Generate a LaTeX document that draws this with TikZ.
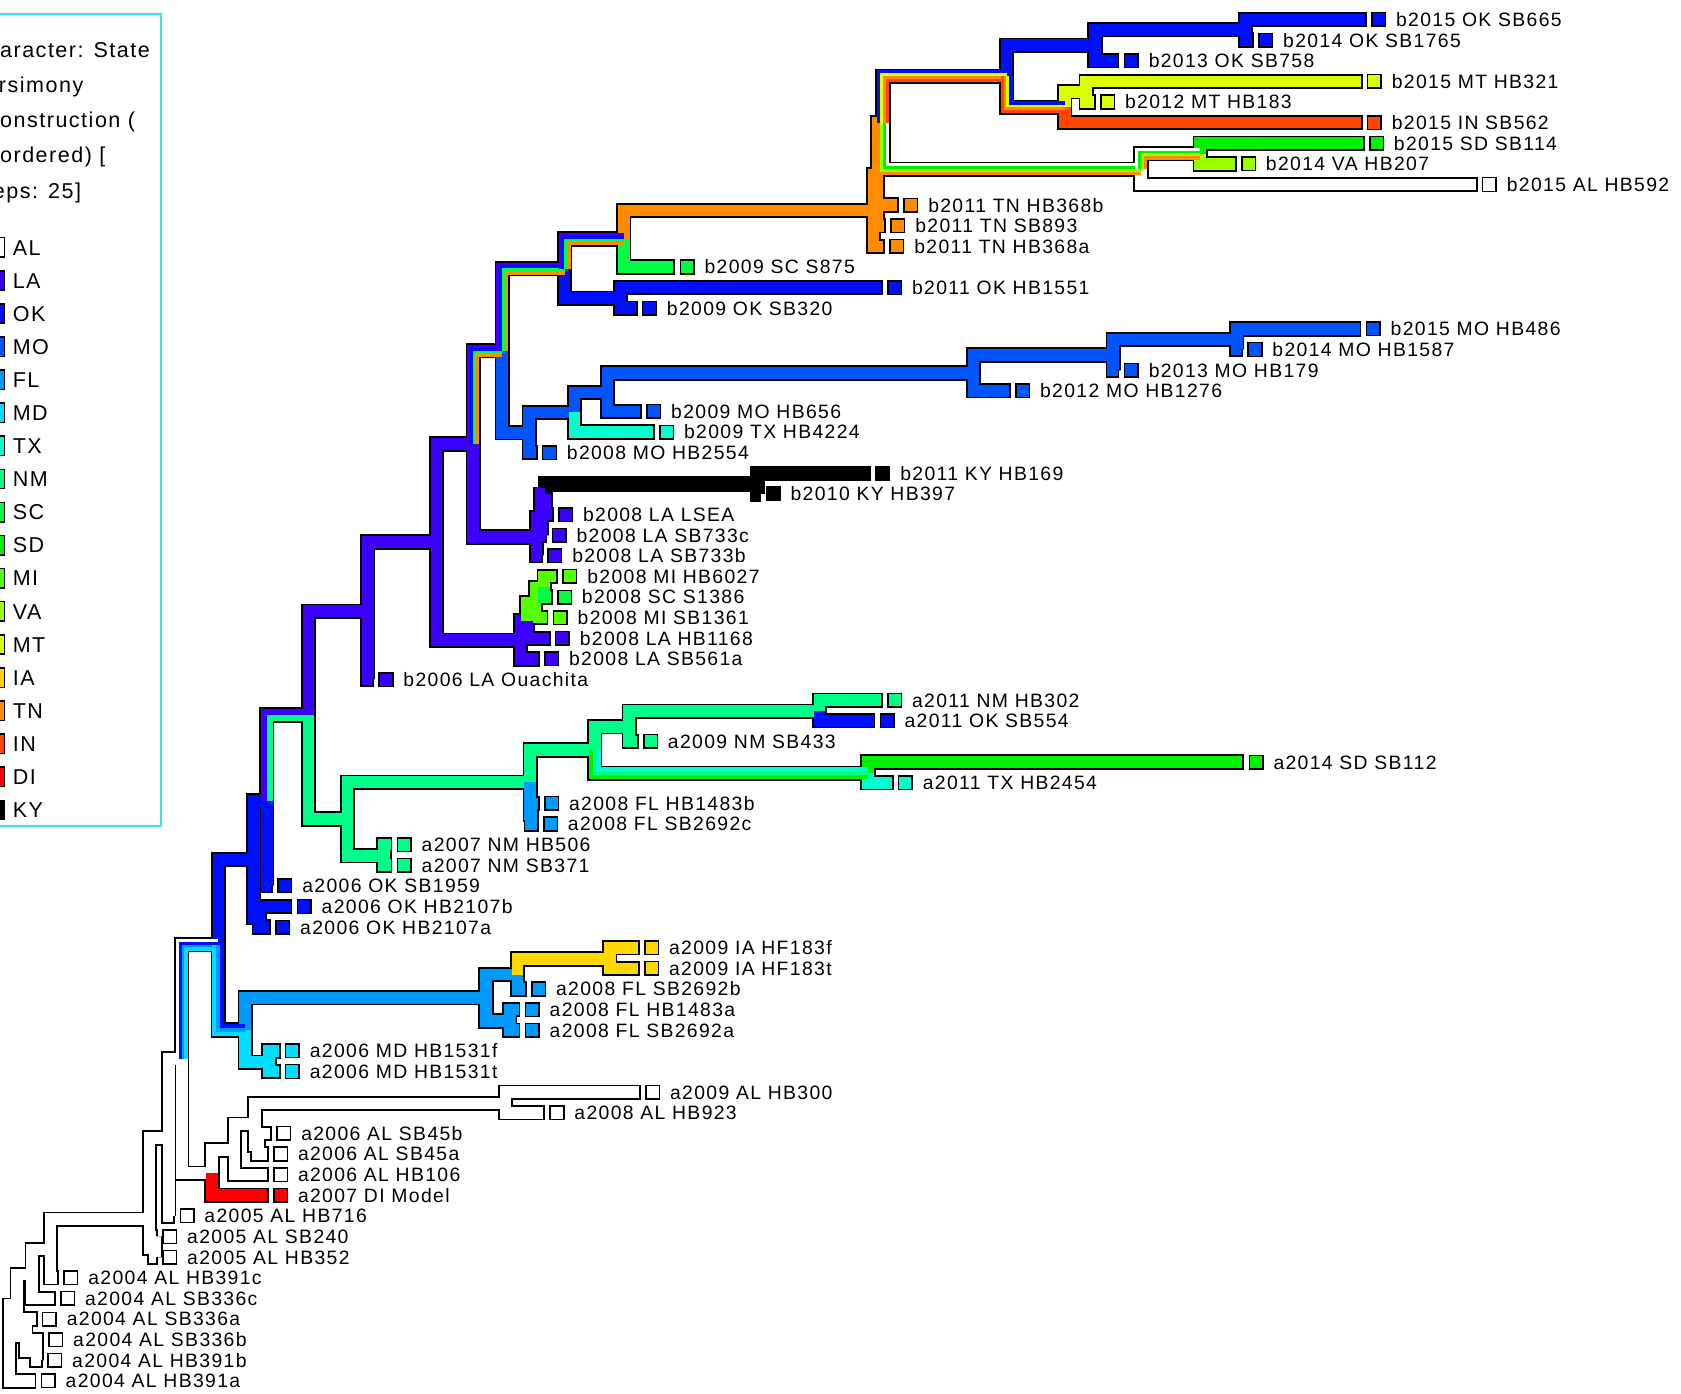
\documentclass[tikz,border=0pt]{standalone}
\usepackage{fontspec}
\setmainfont{Liberation Sans}[LetterSpace=7]
\usetikzlibrary{positioning}
\definecolor{cAL}{RGB}{255,255,255}
\definecolor{cLA}{RGB}{60,0,255}
\definecolor{cOK}{RGB}{0,16,255}
\definecolor{cMO}{RGB}{0,85,255}
\definecolor{cFL}{RGB}{0,153,255}
\definecolor{cMD}{RGB}{0,221,255}
\definecolor{cTX}{RGB}{0,255,204}
\definecolor{cNM}{RGB}{0,255,136}
\definecolor{cSC}{RGB}{0,255,68}
\definecolor{cSD}{RGB}{0,240,0}
\definecolor{cMI}{RGB}{85,255,0}
\definecolor{cVA}{RGB}{153,255,0}
\definecolor{cMT}{RGB}{221,255,0}
\definecolor{cIA}{RGB}{255,215,0}
\definecolor{cTN}{RGB}{255,140,0}
\definecolor{cIN}{RGB}{255,69,0}
\definecolor{cDI}{RGB}{255,0,0}
\definecolor{cKY}{RGB}{0,0,0}
\definecolor{frame}{RGB}{64,224,240}
\tikzset{
  brout/.style={draw=black, line width=14.2pt, line join=miter, line cap=butt},
  brfill/.style={draw=c#1, line width=10.8pt, line join=miter, line cap=butt},
  leaf/.style={draw=black, line width=1.4pt, fill=c#1, minimum size=12.6pt, inner sep=0pt},
  swatch/.style={draw=black, line width=1.4pt, fill=c#1, minimum width=14pt, minimum height=18pt, inner sep=0pt},
  lab/.style={inner sep=0pt, text height=12.9pt, text depth=0pt, font=\fontsize{18}{21}\selectfont},
  lgtxt/.style={anchor=west, inner sep=0pt, text height=14.3pt, text depth=0pt, font=\fontsize{20}{23}\selectfont}
}
% internal nodes: name/x/y
\def\inodes{root/9/1245.9, nT/16/1210, nP/30/1181.5, nS/24/1238.5, nR/34/1252.9, nO/47/1158,
  nM/139/1130, nN/144/1156.9, nL/157/1054.6, nJ/169/981, nA5/197/1087.3, nA4/218/1065.7,
  nA6/237/1041.7, nA1/470/1022.5, nA3/240/1060.9, nH/203/874.8, nG0/236/795.4, nG/248/741.1,
  nOK/241/849.7, nF/287/661.3, nFM/228/954.1, nFL/452/924.1, nFL1/481/902.5, nIA/567/888.1,
  nFL2/474/945.7, nMD/250/984.1, nNM/323/757.9, nN6/493/723.7, nN4/553/693.7, nN2/585/672.1,
  nN1/762/657.7, nN3/807/715.3, nN5/494/753.7, nN7/357/792.1, nLAO/342/564.7, nE/406/500.4,
  nLM4/484/591.7, nLM3/490/573.7, nLM2/498/556.9, nLM1/506/542.5, nD/440/409.1, nLAc/499/495.7,
  nLAb/503/477.7, nLAa/507/456, nKY/704/446.5, nC/467/322.5, nMO/492/398.8, nMO2/534/379.9,
  nM4/565/361.3, nM3/905/343.3, nM2/1035/326.5, nM1/1150/312.1, nB/525/246.1, nOK3/577/273.7,
  nTNSC/580/218.5, nTN/812/192.1, nTopTN/816/158.5, nTop/821/110.5, n5/936/67.3, n2/1018/38.5,
  n1/1158/24.1, n4/990/96.1, n3/1010/81.7, nSDVA/1061/153.7, nSV/1116/139.3}
% branches between internal nodes: parent/child/state
\def\plain{root/nT/AL, nT/nP/AL, nT/nS/AL, nP/nO/AL, nS/nR/AL, nO/nM/AL, nM/nL/AL, nM/nN/AL,
  nL/nJ/AL, nJ/nA5/AL, nA5/nA4/AL, nA4/nA6/AL, nA6/nA1/AL, nA6/nA3/AL, nH/nG0/OK, nG0/nG/OK,
  nG0/nOK/OK, nF/nLAO/LA, nF/nNM/NM, nFM/nFL/FL, nFM/nMD/MD, nFL/nFL1/FL, nFL/nFL2/FL,
  nFL1/nIA/IA, nNM/nN6/NM, nNM/nN7/NM, nN6/nN4/NM, nN6/nN5/FL, nN4/nN2/NM, nN2/nN1/NM,
  nLAO/nE/LA, nE/nD/LA, nE/nLM4/LA, nLM4/nLM3/LA, nLM3/nLM2/MI, nLM2/nLM1/MI, nLAa/nKY/KY,
  nD/nLAc/LA, nLAc/nLAb/LA, nLAb/nLAa/LA, nC/nMO/MO, nMO/nMO2/MO, nMO2/nM4/MO, nM4/nM3/MO,
  nM3/nM2/MO, nM2/nM1/MO, nB/nOK3/OK, nTNSC/nTN/TN, nTN/nTopTN/TN, nTopTN/nTop/TN,
  n5/n2/OK, n2/n1/OK, n4/n3/MT}
% ambiguous branches: parent/child/up(1) or down(-1)/number/states, outer first
\def\striped{nJ/nH/1/4/{AL,OK,FL,MD}, nH/nFM/-1/3/{MD,FL,OK}, nG/nF/1/2/{LA,NM},
  nN4/nN3/-1/3/{SD,NM,TX}, nD/nC/1/4/{LA,OK,SC,TN}, nC/nB/1/4/{LA,OK,SC,TN},
  nB/nTNSC/1/4/{LA,OK,SC,TN}, nTop/n5/1/4/{OK,MT,TN,IN}, nTop/nSDVA/-1/4/{TN,VA,SD,AL},
  n5/n4/-1/4/{IN,TN,MT,OK}, nSDVA/nSV/1/4/{AL,SD,VA,TN}}
% terminals: parent/box x/state/name
\def\leaves{n1/1275/OK/b2015 OK SB665, n1/1170/OK/b2014 OK SB1765, n2/1045/OK/b2013 OK SB758,
  n3/1271/MT/b2015 MT HB321, n3/1023/MT/b2012 MT HB183, n4/1271/IN/b2015 IN SB562,
  nSV/1273/SD/b2015 SD SB114, nSV/1154/VA/b2014 VA HB207, nSDVA/1378/AL/b2015 AL HB592,
  nTopTN/840/TN/b2011 TN HB368b, nTopTN/828/TN/b2011 TN SB893, nTN/827/TN/b2011 TN HB368a,
  nTNSC/632/SC/b2009 SC S875, nOK3/825/OK/b2011 OK HB1551, nOK3/597/OK/b2009 OK SB320,
  nM1/1270/MO/b2015 MO HB486, nM1/1160/MO/b2014 MO HB1587, nM2/1045/MO/b2013 MO HB179,
  nM3/944/MO/b2012 MO HB1276, nM4/601/MO/b2009 MO HB656, nMO2/613/TX/b2009 TX HB4224,
  nMO/504/MO/b2008 MO HB2554, nKY/814/KY/b2011 KY HB169, nKY/712/KY/b2010 KY HB397,
  nLAa/519/LA/b2008 LA LSEA, nLAb/513/LA/b2008 LA SB733c, nLAc/509/LA/b2008 LA SB733b,
  nLM1/523/MI/b2008 MI HB6027, nLM1/518/SC/b2008 SC S1386, nLM2/514/MI/b2008 MI SB1361,
  nLM3/516/LA/b2008 LA HB1168, nLM4/506/LA/b2008 LA SB561a, nLAO/352/LA/b2006 LA Ouachita,
  nN1/825/NM/a2011 NM HB302, nN1/818/OK/a2011 OK SB554, nN2/598/NM/a2009 NM SB433,
  nN3/1161/SD/a2014 SD SB112, nN3/835/TX/a2011 TX HB2454, nN5/506/FL/a2008 FL HB1483b,
  nN5/505/FL/a2008 FL SB2692c, nN7/369/NM/a2007 NM HB506, nN7/369/NM/a2007 NM SB371,
  nG/258/OK/a2006 OK SB1959, nOK/276/OK/a2006 OK HB2107b, nOK/256/OK/a2006 OK HB2107a,
  nIA/599/IA/a2009 IA HF183f, nIA/599/IA/a2009 IA HF183t, nFL1/494/FL/a2008 FL SB2692b,
  nFL2/488/FL/a2008 FL HB1483a, nFL2/488/FL/a2008 FL SB2692a, nMD/265/MD/a2006 MD HB1531f,
  nMD/265/MD/a2006 MD HB1531t, nA1/600/AL/a2009 AL HB300, nA1/511/AL/a2008 AL HB923,
  nA3/257/AL/a2006 AL SB45b, nA3/254/AL/a2006 AL SB45a, nA4/254/AL/a2006 AL HB106,
  nA5/254/DI/a2007 DI Model, nL/167/AL/a2005 AL HB716, nN/151/AL/a2005 AL SB240,
  nN/151/AL/a2005 AL HB352, nO/59/AL/a2004 AL HB391c, nP/56/AL/a2004 AL SB336c,
  nS/39/AL/a2004 AL SB336a, nR/45/AL/a2004 AL SB336b, nR/44/AL/a2004 AL HB391b,
  root/38/AL/a2004 AL HB391a}
\begin{document}
\begin{tikzpicture}[x=1pt, y=-1pt]
\useasboundingbox (0,0) rectangle (1563,1296.1);
\clip (0,0) rectangle (1563,1296.1);
% legend
\draw[frame, line width=1.6pt] (-5,13) rectangle (150,768);
\foreach \lx/\lgline [count=\ii] in {-28.4/Character: State, -28.4/Parsimony,
    -32/reconstruction (, -28.4/Unordered) [, -28.4/Steps: 25]}
  \node[lgtxt] (h\ii) at (\lx, {46+32.8*(\ii-1)}) {\lgline};
\foreach \st [count=\ii] in {AL,LA,OK,MO,FL,MD,TX,NM,SC,SD,MI,VA,MT,IA,TN,IN,DI,KY} {
  \node[swatch=\st] (s\ii) at (-3, {230+30.77*(\ii-1)}) {};
  \node[lgtxt, right=7pt of s\ii] (k\ii) {\st};
}
% nodes and terminals
\foreach \nm/\x/\y in \inodes \coordinate (\nm) at (\x,{\y+3.6});
\foreach \pa/\bx/\col/\txt [count=\ii] in \leaves {
  \node[leaf=\col] (t\ii) at ({\bx+6.9}, {18.1+19.18*(\ii-1)}) {};
  \node[lab, right=9pt of t\ii] (l\ii) {\txt};
}
% branch outlines
\foreach \pa/\ch/\col in \plain \draw[brout] (\pa) |- (\ch);
\foreach \pa/\ch/\sg/\nk/\cols in \striped \draw[brout] (\pa) |- (\ch);
\foreach \pa/\bx/\col/\txt [count=\ii] in \leaves \draw[brout, shorten >=4pt] (\pa) |- (t\ii.west);
% branch fills
\foreach \pa/\ch/\col in \plain \draw[brfill=\col] (\pa) |- (\ch);
\foreach \pa/\bx/\col/\txt [count=\ii] in \leaves \draw[brfill=\col, shorten >=5.7pt] (\pa) |- (t\ii.west);
\foreach \pa/\ch/\sg/\nk/\cols in \striped {
  \foreach \cc [count=\kk] in \cols {
    \pgfmathsetmacro\dd{-5.4+(\kk-0.5)*10.8/\nk}
    \pgfmathsetmacro\lw{10.8/\nk+0.4}
    \draw[draw=c\cc, line width=\lw pt, line join=miter, line cap=butt]
      ([xshift=\dd pt]\pa) |- ([shift={(0,\sg*\dd)}]\ch);
  }
}
\end{tikzpicture}
\end{document}
